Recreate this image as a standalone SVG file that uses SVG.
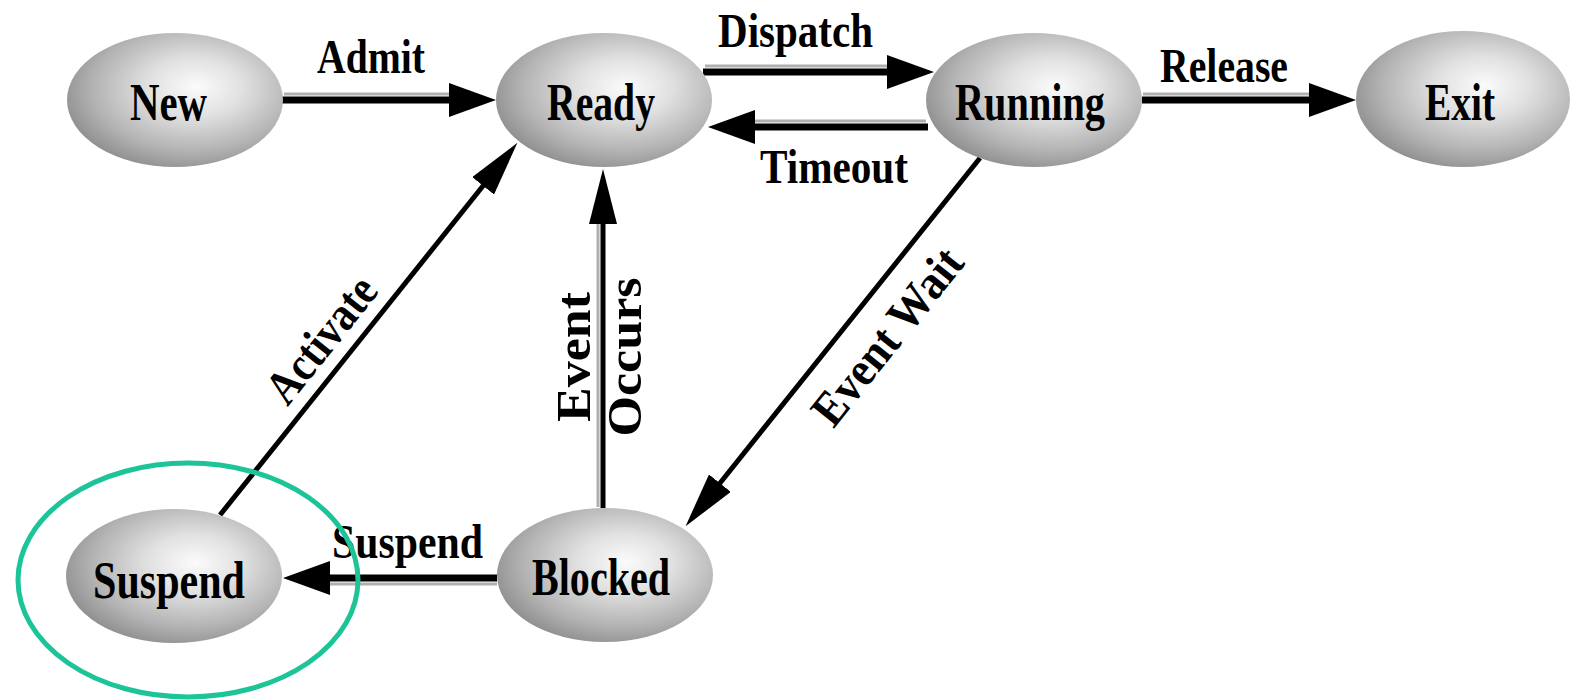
<svg xmlns="http://www.w3.org/2000/svg" width="1575" height="700" viewBox="0 0 1575 700">
  <defs>
    <radialGradient id="ball" cx="0.58" cy="0.42" r="0.62" fx="0.6" fy="0.4">
      <stop offset="0" stop-color="#fbfbfb"/>
      <stop offset="0.35" stop-color="#e1e1e1"/>
      <stop offset="0.75" stop-color="#b3b3b3"/>
      <stop offset="1" stop-color="#8f8f8f"/>
    </radialGradient>
    <!-- short wide head for the horizontal arrows -->
    <marker id="headH" markerUnits="userSpaceOnUse" markerWidth="48" markerHeight="34" viewBox="0 0 48 34" refX="1" refY="17" orient="auto">
      <path d="M0,0 L47,17 L0,34 z" fill="#000"/>
    </marker>
    <!-- longer narrow head for the vertical and slanted arrows -->
    <marker id="headV" markerUnits="userSpaceOnUse" markerWidth="56" markerHeight="28" viewBox="0 0 56 28" refX="1" refY="14" orient="auto">
      <path d="M0,0 L55,14 L0,28 z" fill="#000"/>
    </marker>
  </defs>
  <style>
    .node ellipse { fill: url(#ball); }
    .node text { font-family: "Liberation Serif", "Times New Roman", serif; font-weight: bold; font-size: 52px; fill: #000; text-anchor: middle; }
    .edge { stroke: #000; fill: none; }
    .h { stroke-width: 7; marker-end: url(#headH); }
    .v { stroke-width: 5; marker-end: url(#headV); }
    .shade { stroke: #b0b0b0; stroke-width: 3; fill: none; }
    .label { font-family: "Liberation Serif", "Times New Roman", serif; font-weight: bold; font-size: 48px; fill: #000; text-anchor: middle; }
  </style>

  <rect width="1575" height="700" fill="#fff"/>

  <g id="connectors">
    <!-- light edges beside the straight arrows -->
    <line class="shade" x1="284" y1="94" x2="452" y2="94"/>
    <line class="shade" x1="705" y1="66" x2="890" y2="66"/>
    <line class="shade" x1="754" y1="121" x2="926" y2="121"/>
    <line class="shade" x1="1143" y1="94" x2="1312" y2="94"/>
    <line class="shade" x1="329" y1="584" x2="497" y2="584"/>
    <line class="shade" x1="598" y1="223" x2="598" y2="507"/>

    <path id="e-admit" class="edge h" d="M282,100 L450,100"/>
    <path id="e-dispatch" class="edge h" d="M703,72 L888,72"/>
    <path id="e-timeout" class="edge h" d="M928,127 L754,127"/>
    <path id="e-release" class="edge h" d="M1142,100 L1310,100"/>
    <path id="e-suspend" class="edge h" d="M497,578 L329,578"/>
    <path id="e-occurs" class="edge v" d="M603,508 L603,223"/>
    <path id="e-activate" class="edge v" d="M220,515 L483.7,185"/>
    <path id="e-wait" class="edge v" d="M980,158 L719.3,484"/>

    <text class="label" x="371" y="73" textLength="108" lengthAdjust="spacingAndGlyphs">Admit</text>
    <text class="label" x="795.5" y="47" textLength="155" lengthAdjust="spacingAndGlyphs">Dispatch</text>
    <text class="label" x="834" y="183" textLength="148" lengthAdjust="spacingAndGlyphs">Timeout</text>
    <text class="label" x="1224" y="82" textLength="128" lengthAdjust="spacingAndGlyphs">Release</text>
    <text class="label" x="407.5" y="558" textLength="151" lengthAdjust="spacingAndGlyphs">Suspend</text>
    <text class="label" transform="translate(575,357) rotate(-90)" x="0" y="15" font-size="44" textLength="130" lengthAdjust="spacingAndGlyphs">Event</text>
    <text class="label" transform="translate(626,357) rotate(-90)" x="0" y="15" font-size="44" textLength="159" lengthAdjust="spacingAndGlyphs">Occurs</text>
    <text class="label" transform="translate(322,340) rotate(-51.4)" x="0" y="15" font-size="46" textLength="148" lengthAdjust="spacingAndGlyphs">Activate</text>
    <text class="label" transform="translate(888,337) rotate(-51.4)" x="0" y="15" font-size="46" textLength="212" lengthAdjust="spacingAndGlyphs">Event Wait</text>
  </g>

  <g id="node-new" class="node">
    <ellipse cx="175" cy="100" rx="108" ry="67"/>
    <text x="168.5" y="120" textLength="77" lengthAdjust="spacingAndGlyphs">New</text>
  </g>
  <g id="node-ready" class="node">
    <ellipse cx="604" cy="100" rx="108" ry="67"/>
    <text x="601" y="120" textLength="108" lengthAdjust="spacingAndGlyphs">Ready</text>
  </g>
  <g id="node-running" class="node">
    <ellipse cx="1034" cy="100" rx="108" ry="67"/>
    <text x="1030" y="120" textLength="150" lengthAdjust="spacingAndGlyphs">Running</text>
  </g>
  <g id="node-exit" class="node">
    <ellipse cx="1463" cy="99" rx="107" ry="68"/>
    <text x="1460" y="120" textLength="70" lengthAdjust="spacingAndGlyphs">Exit</text>
  </g>
  <g id="node-suspend" class="node">
    <ellipse cx="174" cy="576" rx="108" ry="67"/>
    <text x="169" y="598" textLength="152" lengthAdjust="spacingAndGlyphs">Suspend</text>
  </g>
  <g id="node-blocked" class="node">
    <ellipse cx="605" cy="575" rx="108" ry="67"/>
    <text x="601" y="595" textLength="138" lengthAdjust="spacingAndGlyphs">Blocked</text>
  </g>

  <!-- highlight ring around the Suspend state -->
  <g id="highlight">
    <ellipse cx="188" cy="580" rx="170" ry="117" fill="none" stroke="#1cc497" stroke-width="5"/>
  </g>
</svg>
